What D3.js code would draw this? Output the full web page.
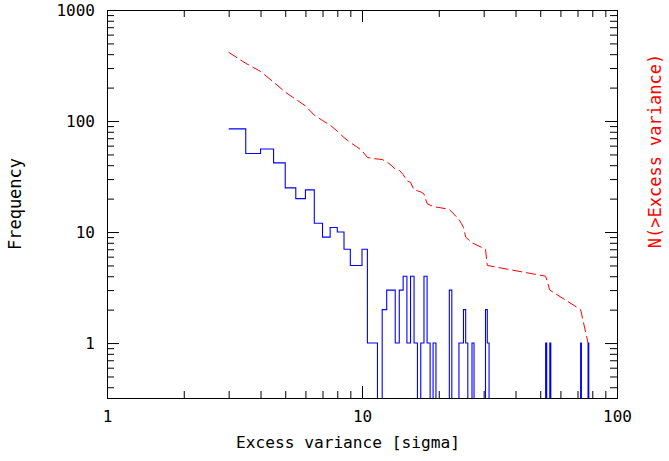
<!DOCTYPE html>
<html>
<head>
<meta charset="utf-8">
<script src="https://cdn.jsdelivr.net/npm/d3@7"></script>
<style>
  body { margin: 0; background: #fff; }
  text { font-family: "DejaVu Sans Mono", monospace; }
</style>
</head>
<body>
<div id="chart"></div>
<script>
/* CONSTANTS */
const width = 669,
  height = 461,
  margin = { top: 10, bottom: 63, left: 107, right: 52 };

// histogram bins (0.5 sigma wide), only the non-empty ones
const binWidth = 0.5;
const binStart = [3.0, 3.5, 4.0, 4.5, 5.0, 5.5, 6.0, 6.5, 7.0, 7.5, 8.0, 8.5, 9.0, 9.5,
  10.0, 10.5, 11.0, 12.0, 12.5, 13.0, 13.5, 14.0, 14.5, 15.0, 15.5, 16.0, 17.0, 17.5,
  18.0, 19.0, 22.0, 24.0, 24.5, 25.0, 25.5, 27.0, 30.5, 31.0, 52.5, 54.5, 72.0, 77.0];
const binCount = [85, 51, 56, 42, 25, 20, 24, 12, 9, 11, 10, 7, 5, 5,
  7, 1, 1, 2, 3, 3, 1, 3, 4, 1, 4, 1, 1, 4,
  1, 1, 3, 1, 1, 2, 1, 1, 2, 1, 1, 1, 1, 1];

// cumulative N(>Excess variance), red dashed curve
const cumX = binStart;
const cumN = [416, 331, 280, 224, 182, 157, 137, 113, 101, 92, 81, 71, 64, 59,
  54, 47, 46, 45, 43, 40, 37, 36, 33, 29, 28, 24, 23, 22,
  18, 17, 16, 13, 12, 11, 9, 8, 7, 5, 4, 3, 2, 1];

const xMajor = [1, 10, 100];
const yMajor = [1, 10, 100, 1000];

/* SCALES */
const xScale = d3.scaleLog()
  .domain([1, 100])
  .range([margin.left, width - margin.right]);

const yScale = d3.scaleLog()
  .domain([0.32, 1000])
  .range([height - margin.bottom, margin.top]);

const xMinor = xScale.ticks().filter(d => !xMajor.includes(d));
const yMinor = yScale.ticks().filter(d => !yMajor.includes(d));

/* SVG */
const svg = d3.select("#chart")
  .append("svg")
  .attr("width", width)
  .attr("height", height);

svg.append("clipPath")
  .attr("id", "plot-clip")
  .append("rect")
  .attr("x", margin.left)
  .attr("y", margin.top)
  .attr("width", width - margin.left - margin.right)
  .attr("height", height - margin.top - margin.bottom);

/* AXES (ticks point inward on all four sides) */
const bottomY = height - margin.bottom,
  rightX = width - margin.right;

function styleAxis(g) {
  g.selectAll("path, line").attr("stroke", "#000").attr("stroke-width", 1);
  g.selectAll("text").attr("font-size", 16).attr("fill", "#000")
    .attr("font-family", "DejaVu Sans Mono, monospace");
}

svg.append("g")
  .attr("transform", `translate(0, ${bottomY})`)
  .call(d3.axisBottom(xScale).tickValues(xMajor).tickFormat(d3.format("d"))
    .tickSizeInner(-12).tickSizeOuter(0).tickPadding(13))
  .call(styleAxis);
svg.append("g")
  .attr("transform", `translate(0, ${bottomY})`)
  .call(d3.axisBottom(xScale).tickValues(xMinor).tickFormat("")
    .tickSizeInner(-7).tickSizeOuter(0))
  .call(styleAxis);

svg.append("g")
  .attr("transform", `translate(0, ${margin.top})`)
  .call(d3.axisTop(xScale).tickValues(xMajor).tickFormat("")
    .tickSizeInner(-12).tickSizeOuter(0))
  .call(styleAxis);
svg.append("g")
  .attr("transform", `translate(0, ${margin.top})`)
  .call(d3.axisTop(xScale).tickValues(xMinor).tickFormat("")
    .tickSizeInner(-7).tickSizeOuter(0))
  .call(styleAxis);

svg.append("g")
  .attr("transform", `translate(${margin.left}, 0)`)
  .call(d3.axisLeft(yScale).tickValues(yMajor).tickFormat(d3.format("d"))
    .tickSizeInner(-12).tickSizeOuter(0).tickPadding(12))
  .call(styleAxis);
svg.append("g")
  .attr("transform", `translate(${margin.left}, 0)`)
  .call(d3.axisLeft(yScale).tickValues(yMinor).tickFormat("")
    .tickSizeInner(-7).tickSizeOuter(0))
  .call(styleAxis);

svg.append("g")
  .attr("transform", `translate(${rightX}, 0)`)
  .call(d3.axisRight(yScale).tickValues(yMajor).tickFormat("")
    .tickSizeInner(-12).tickSizeOuter(0))
  .call(styleAxis);
svg.append("g")
  .attr("transform", `translate(${rightX}, 0)`)
  .call(d3.axisRight(yScale).tickValues(yMinor).tickFormat("")
    .tickSizeInner(-7).tickSizeOuter(0))
  .call(styleAxis);

/* HISTOGRAM (blue step line, empty bins drop below the frame) */
const stepPoints = [];
binStart.forEach((s, i) => {
  if (i > 0) {
    const prevEnd = binStart[i - 1] + binWidth;
    if (Math.abs(prevEnd - s) > 1e-9) stepPoints.push([prevEnd, 0]);
  }
  stepPoints.push([s, binCount[i]]);
});
stepPoints.push([binStart[binStart.length - 1] + binWidth, 0]);

const stepLine = d3.line()
  .x(d => xScale(d[0]))
  .y(d => d[1] > 0 ? yScale(d[1]) : bottomY + 5)
  .curve(d3.curveStepAfter);

svg.append("path")
  .attr("clip-path", "url(#plot-clip)")
  .attr("d", stepLine(stepPoints))
  .attr("fill", "none")
  .attr("stroke", "#0000ff")
  .attr("stroke-width", 1.1);

/* CUMULATIVE CURVE */
const cumLine = d3.line()
  .x((d, i) => xScale(cumX[i]))
  .y(d => yScale(d));

svg.append("path")
  .attr("d", cumLine(cumN))
  .attr("fill", "none")
  .attr("stroke", "#ff0000")
  .attr("stroke-width", 1)
  .attr("stroke-dasharray", "10,4");

/* TITLES */
svg.append("text")
  .attr("x", 348)
  .attr("y", 448)
  .attr("text-anchor", "middle")
  .attr("font-size", 16.2)
  .text("Excess variance [sigma]");

svg.append("text")
  .attr("transform", `translate(21, ${(margin.top + bottomY) / 2}) rotate(-90)`)
  .attr("text-anchor", "middle")
  .attr("font-size", 17)
  .text("Frequency");

svg.append("text")
  .attr("transform", "translate(661, 151) rotate(-90)")
  .attr("text-anchor", "middle")
  .attr("font-size", 17)
  .attr("fill", "#ff0000")
  .text("N(>Excess variance)");
</script>
</body>
</html>
